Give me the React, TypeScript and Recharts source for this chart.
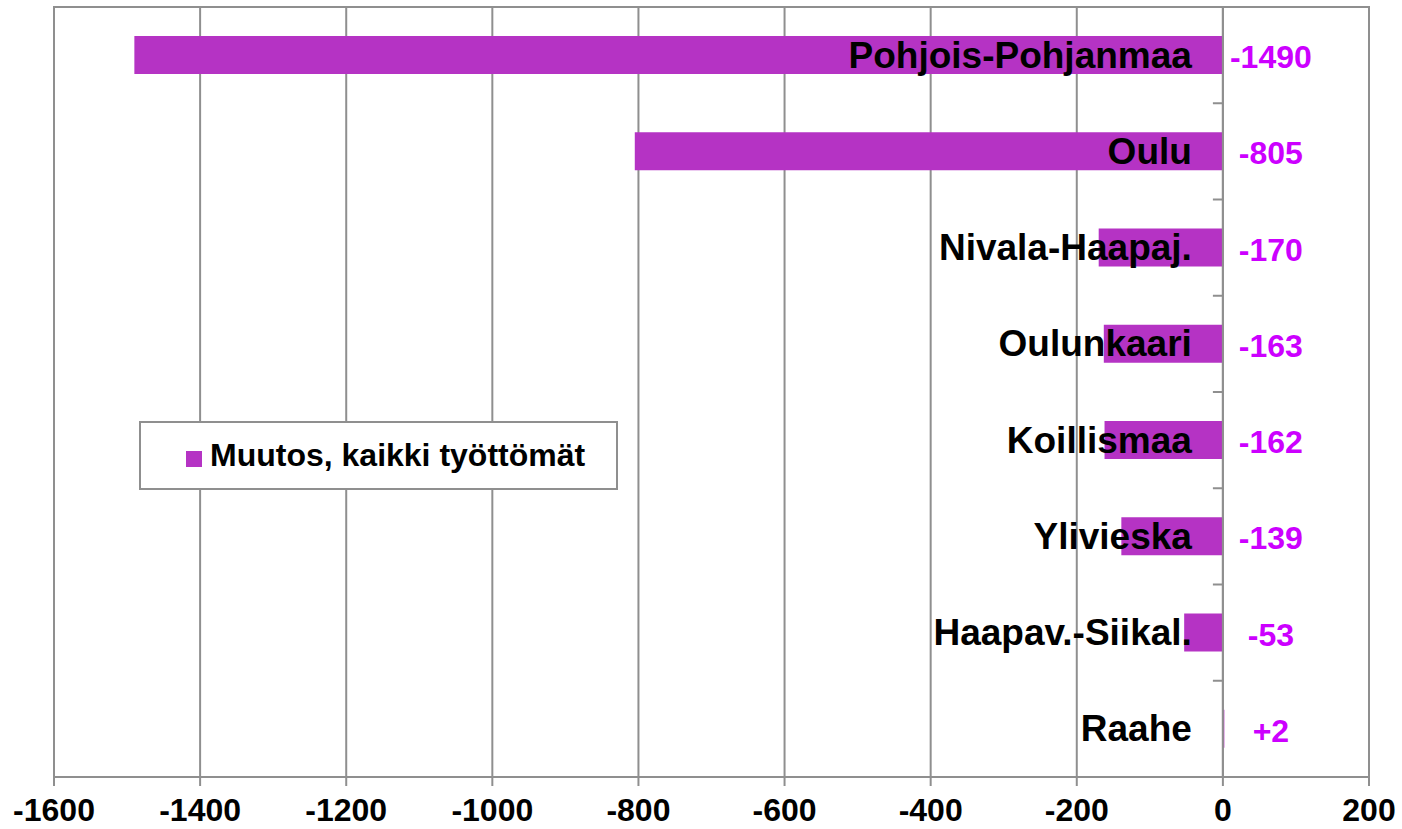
import React from 'react';
import {
  BarChart,
  Bar,
  XAxis,
  YAxis,
  CartesianGrid,
  ReferenceLine,
  ReferenceArea,
  LabelList,
  Legend,
} from 'recharts';

const regions = [
  'Pohjois-Pohjanmaa',
  'Oulu',
  'Nivala-Haapaj.',
  'Oulunkaari',
  'Koillismaa',
  'Ylivieska',
  'Haapav.-Siikal.',
  'Raahe',
];
const changes = [-1490, -805, -170, -163, -162, -139, -53, 2];
const xTicks = [-1600, -1400, -1200, -1000, -800, -600, -400, -200, 0, 200];
const seriesName = 'Muutos, kaikki työttömät';

const data = regions.map((name, i) => ({ name, value: changes[i] }));

const FONT = '"Liberation Sans", Arial, sans-serif';
const BAR_COLOR = '#B533C4';
const VALUE_COLOR = '#CC00FF';
const GRID_COLOR = '#8f8f8f';

const zeroOf = (props: any) => {
  const { x, width, value } = props;
  return value < 0 && width > 0 ? x + width : x;
};

const NameLabel = (props: any) => {
  const { y, height, value } = props;
  const zero = zeroOf({ ...props, value: data[props.index]?.value ?? -1 });
  return (
    <text
      x={zero - 31}
      y={y + height / 2}
      textAnchor="end"
      dominantBaseline="central"
      fontFamily={FONT}
      fontWeight="bold"
      fontSize={37}
      fill="#000"
    >
      {value}
    </text>
  );
};

const ValueLabel = (props: any) => {
  const { y, height, value } = props;
  const zero = zeroOf(props);
  return (
    <text
      x={zero + 48}
      y={y + height / 2 + 2}
      textAnchor="middle"
      dominantBaseline="central"
      fontFamily={FONT}
      fontWeight="bold"
      fontSize={32}
      fill={VALUE_COLOR}
    >
      {value > 0 ? `+${value}` : value}
    </text>
  );
};

const ZeroAxis = (props: any) => {
  const { x1, y1, y2 } = props;
  const top = Math.min(y1, y2);
  const bottom = Math.max(y1, y2);
  const step = (bottom - top) / regions.length;
  return (
    <g>
      <line x1={x1} y1={top} x2={x1} y2={bottom} stroke={GRID_COLOR} strokeWidth={2} />
      {regions.map((_, k) => (
        <line
          key={k}
          x1={x1 - 10}
          x2={x1}
          y1={top + step * (k + 1)}
          y2={top + step * (k + 1)}
          stroke={GRID_COLOR}
          strokeWidth={2}
        />
      ))}
    </g>
  );
};

const LegendBox = () => (
  <div
    style={{
      boxSizing: 'border-box',
      width: 479,
      height: 69,
      border: `2px solid ${GRID_COLOR}`,
      background: '#fff',
      display: 'flex',
      alignItems: 'center',
      paddingLeft: 45,
      fontFamily: FONT,
      fontWeight: 'bold',
      fontSize: 32,
      color: '#000',
    }}
  >
    <span
      style={{
        display: 'inline-block',
        width: 16,
        height: 16,
        background: BAR_COLOR,
        marginRight: 8,
        marginTop: 6,
      }}
    />
    <span>{seriesName}</span>
  </div>
);

export default function App() {
  return (
    <div style={{ position: 'absolute', left: 0, top: 0, background: '#fff' }}>
      <BarChart
        width={1402}
        height={829}
        data={data}
        layout="vertical"
        margin={{ top: 7, right: 33, left: 54, bottom: 0 }}
        barSize={38}
      >
        <CartesianGrid horizontal={false} stroke={GRID_COLOR} strokeWidth={2} />
        <ReferenceArea
          x1={-1600}
          x2={200}
          fill="none"
          stroke={GRID_COLOR}
          strokeWidth={2}
          ifOverflow="visible"
        />
        <XAxis
          type="number"
          domain={[-1600, 200]}
          ticks={xTicks}
          height={52}
          tickSize={9}
          tickMargin={12}
          interval={0}
          axisLine={{ stroke: GRID_COLOR, strokeWidth: 2 }}
          tickLine={{ stroke: GRID_COLOR, strokeWidth: 2 }}
          tick={{ fontFamily: FONT, fontWeight: 'bold', fontSize: 32, fill: '#000' }}
        />
        <YAxis type="category" dataKey="name" hide />
        <Legend
          layout="horizontal"
          align="center"
          verticalAlign="middle"
          wrapperStyle={{ position: 'absolute', left: 139, top: 421, width: 479, height: 69 }}
          content={<LegendBox />}
        />
        <Bar dataKey="value" name={seriesName} fill={BAR_COLOR} isAnimationActive={false}>
          <LabelList dataKey="name" content={<NameLabel />} />
          <LabelList dataKey="value" content={<ValueLabel />} />
        </Bar>
        <ReferenceLine x={0} shape={<ZeroAxis />} />
      </BarChart>
    </div>
  );
}
